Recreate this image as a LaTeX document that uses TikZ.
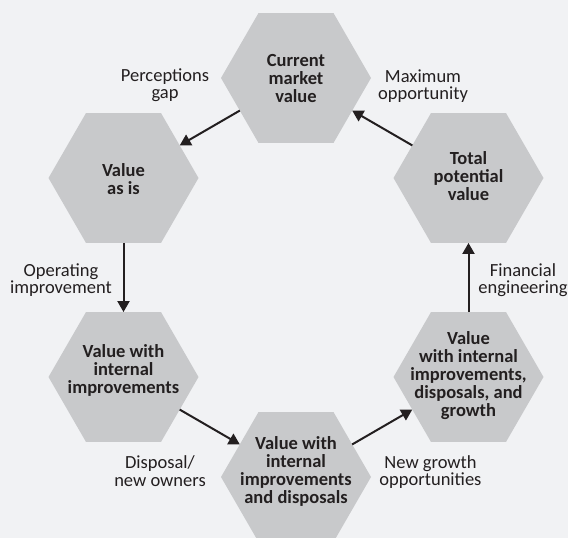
\documentclass[tikz,border=0pt]{standalone}
\usepackage{fontspec}
\setmainfont{Carlito}
\usetikzlibrary{shapes.geometric,arrows.meta}
\definecolor{bgc}{HTML}{F1F2F4}
\definecolor{hexc}{HTML}{C8C9CB}
\definecolor{ink}{HTML}{231F20}
\begin{document}
\begin{tikzpicture}[x=1pt,y=-1pt,
  hexnode/.style={regular polygon, regular polygon sides=6, minimum size=150pt,
    inner sep=0pt, outer sep=0pt, fill=hexc, draw=none},
  hextext/.style={font=\fontsize{18.5}{18}\selectfont\bfseries, align=center,
    text=ink, inner sep=0pt},
  lbl/.style={font=\fontsize{18.5}{17.5}\selectfont, align=center, text=ink,
    inner sep=0pt},
  arr/.style={draw=ink, line width=2pt, -{Triangle[length=11pt,width=12pt]}}]
\fill[bgc] (0,0) rectangle (568,538);
\useasboundingbox (0,0) rectangle (568,538);
\begin{scope}
\clip (0,0) rectangle (568,538);
\node[hexnode] (A) at (296,78) {};
\node[hexnode] (B) at (123.5,178) {};
\node[hexnode] (C) at (468.5,178) {};
\node[hexnode] (D) at (123.5,377) {};
\node[hexnode] (E) at (296,477) {};
\node[hexnode] (F) at (468.5,377) {};
\end{scope}
\node[hextext] (tA) at (296,79) {Current\\market\\value};
\node[hextext] (tB) at (123.5,179) {Value\\as is};
\node[hextext] (tC) at (468.5,176) {Total\\potential\\value};
\node[hextext] (tD) at (123.5,370) {Value with\\internal\\improvements};
\node[hextext] (tE) at (296,471) {Value with\\internal\\improvements\\and disposals};
\node[hextext] (tF) at (468.5,376) {Value\\with internal\\improvements,\\disposals, and\\growth};
\node[lbl] (l1) at (165,85) {Perceptions\\gap};
\node[lbl] (l2) at (423,86) {Maximum\\opportunity};
\node[lbl] (l3) at (61,280) {Operating\\improvement};
\node[lbl] (l4) at (523,280) {Financial\\engineering};
\node[lbl] (l5) at (160,471) {Disposal/\\new owners};
\node[lbl] (l6) at (430.5,472) {New growth\\opportunities};
\draw[arr] (A) -- (B);
\draw[arr] (B) -- (D);
\draw[arr] (D) -- (E);
\draw[arr] (E) -- (F);
\draw[arr] (F) -- (C);
\draw[arr] (C) -- (A);
\end{tikzpicture}
\end{document}
